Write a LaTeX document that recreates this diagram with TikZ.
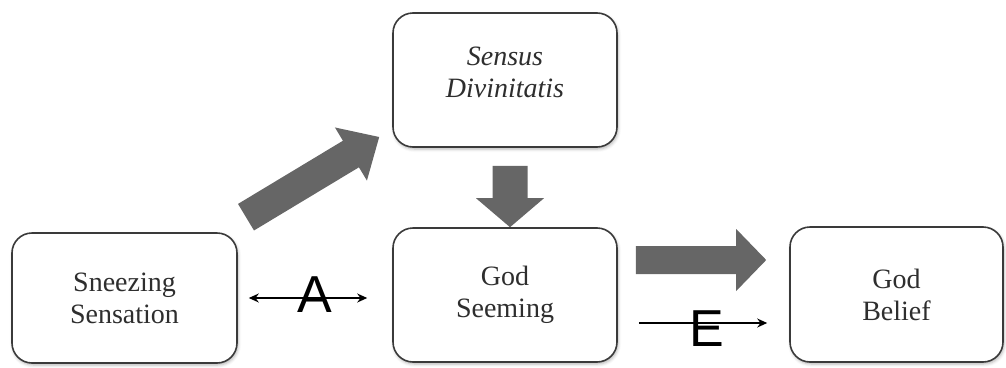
\documentclass[tikz,border=0pt]{standalone}
\usepackage{fontspec}
\setmainfont{Liberation Serif}
\newfontfamily\letterfont{Liberation Sans}
\usetikzlibrary{calc,arrows.meta,shadows.blur}

\definecolor{boxline}{HTML}{3A3A3A}
\definecolor{boxtext}{HTML}{2E2E2E}
\definecolor{blockfill}{HTML}{666666}

% filled block arrow: tail, tip, half shaft width, half head width, head length
\newcommand\blockarrow[5]{%
  \coordinate (hb) at ($(#2)!#5!(#1)$);
  \fill[blockfill]
    ($(#1)!#3!90:(#2)$)
    -- ($(hb)!#3!-90:(#1)$)
    -- ($(hb)!#4!-90:(#1)$)
    -- (#2)
    -- ($(hb)!#4!90:(#1)$)
    -- ($(hb)!#3!90:(#1)$)
    -- ($(#1)!#3!-90:(#2)$)
    -- cycle;
}

\begin{document}
\begin{tikzpicture}[x=1pt,y=-1pt,
  box/.style={draw=boxline, line width=1.6pt, rounded corners=20pt, fill=white,
    inner sep=0pt, align=center, text=boxtext,
    font=\fontsize{28}{32}\selectfont,
    blur shadow={shadow xshift=1pt, shadow yshift=-2pt, shadow blur radius=3pt, shadow opacity=30}},
  boxlabel/.style={align=center, text=boxtext, font=\fontsize{28}{32}\selectfont},
  thinarrow/.style={line width=1.5pt, black},
  tip/.tip={Stealth[length=10pt,width=9pt]},
  letter/.style={font=\letterfont\fontsize{52}{52}\selectfont, inner sep=0pt, anchor=base}
]
\useasboundingbox (0,0) rectangle (1006,367);

% boxes
\node[box, minimum width=225pt, minimum height=130pt] (ss) at (124.5,298) {Sneezing\\Sensation};
\node[box, minimum width=224pt, minimum height=134pt] (sd) at (505,80) {};
\node[boxlabel] (sdt) at ($(sd.center)+(0,-8)$) {\textit{Sensus}\\\textit{Divinitatis}};
\node[box, minimum width=224pt, minimum height=134pt] (gs) at (505,295) {God\\Seeming};
\node[box, minimum width=213pt, minimum height=135pt] (gb) at (896.5,294.5) {God\\Belief};

% block arrows
\coordinate (d1) at ($(ss.north)+(121.5,-15)$);
\coordinate (d2) at ($(sd.west)+(-13,57)$);
\blockarrow{d1}{d2}{15.5pt}{31pt}{33pt}

\coordinate (v1) at ($(sd.south)+(5,18)$);
\coordinate (v2) at ($(gs.north)+(5,0)$);
\blockarrow{v1}{v2}{17.5pt}{34pt}{29pt}

\coordinate (h1) at ($(gs.east)+(18,-35)$);
\coordinate (h2) at ($(gb.west |- h1)+(-23,0)$);
\blockarrow{h1}{h2}{14pt}{31pt}{30pt}

% thin arrows with letters
\draw[thinarrow, {tip}-{tip}] ([xshift=11pt]ss.east) -- ([xshift=-25pt]gs.west |- ss.east)
  node[letter, pos=0.56, yshift=-14pt] (a) {A};
\draw[thinarrow, -{tip}] ([xshift=21pt, yshift=-28pt]gs.east) -- ([xshift=-22pt]gb.west |- 0,323)
  node[letter, pos=0.53, yshift=-23pt] (e) {E};
\end{tikzpicture}
\end{document}
